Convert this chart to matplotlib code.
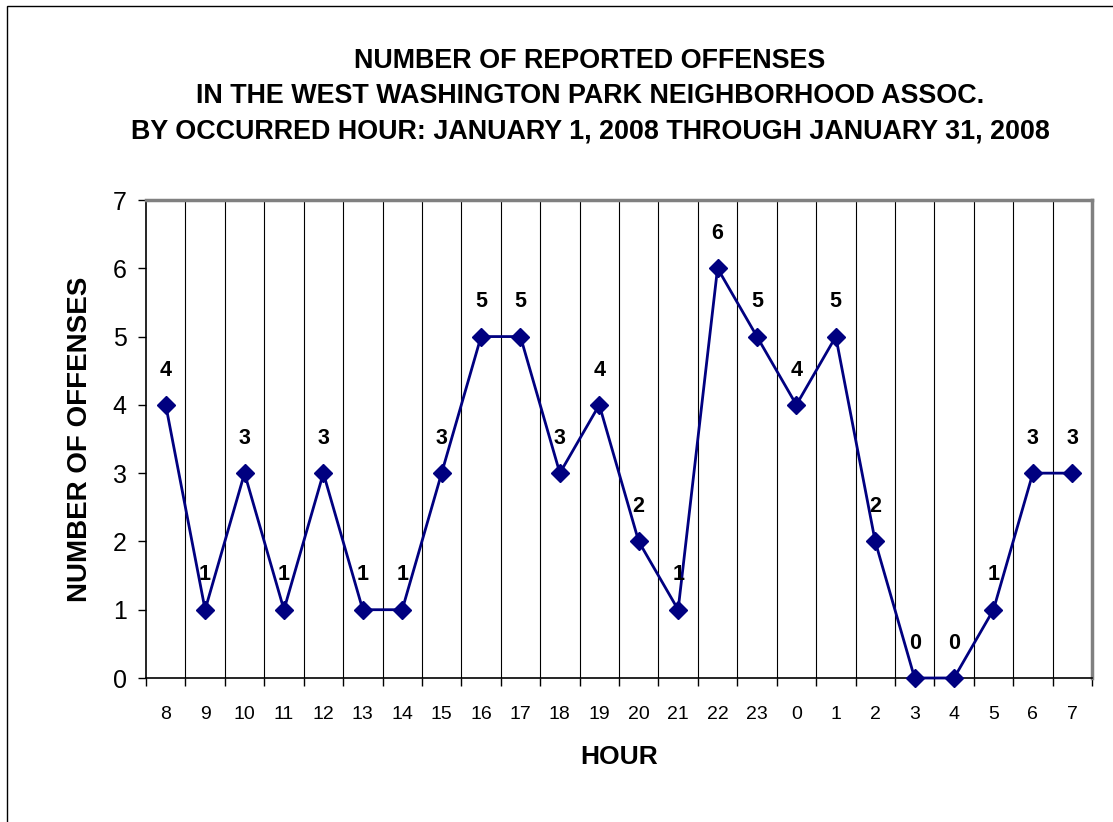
import numpy as np
import matplotlib.pyplot as plt
from matplotlib.patches import Rectangle

hours = ['8', '9', '10', '11', '12', '13', '14', '15', '16', '17', '18', '19',
         '20', '21', '22', '23', '0', '1', '2', '3', '4', '5', '6', '7']
offenses = [4, 1, 3, 1, 3, 1, 1, 3, 5, 5, 3, 4, 2, 1, 6, 5, 4, 5, 2, 0, 0, 1, 3, 3]

title = ('NUMBER OF REPORTED OFFENSES\n'
         'IN THE WEST WASHINGTON PARK NEIGHBORHOOD ASSOC.\n'
         'BY OCCURRED HOUR: JANUARY 1, 2008 THROUGH JANUARY 31, 2008')

plt.rcParams['font.family'] = ['Liberation Sans', 'DejaVu Sans']

fig = plt.figure(figsize=(11.13, 8.22), dpi=100)
W, H = 1113, 822
ax = fig.add_axes([146 / W, 1 - 678 / H, (1092 - 146) / W, (678 - 200) / H])

# outer frame of the chart
fig.patches.append(Rectangle((7 / W, -0.1), 1.2, 1 - 6 / H + 0.1,
                             transform=fig.transFigure, fill=False,
                             edgecolor='black', linewidth=1.0))

n = len(hours)
x = np.arange(n)
ax.plot(x, offenses, color='#000080', linewidth=2, marker='D',
        markersize=9, markeredgecolor='#000080', markerfacecolor='#000080',
        clip_on=False, zorder=3)

for xi, yi in zip(x, offenses):
    ax.annotate(str(yi), (xi, yi), xytext=(0, 25), textcoords='offset points',
                ha='center', va='center', fontsize=15.5, fontweight='bold')

ax.set_xlim(-0.5, n - 0.5)
ax.set_ylim(0, 7)
ax.set_xticks(x)
ax.set_xticklabels(hours, fontsize=14)
ax.set_xticks(np.arange(n + 1) - 0.5, minor=True)
ax.tick_params(axis='x', which='major', length=0, pad=20)
ax.tick_params(axis='x', which='minor', length=6, width=1, direction='out')
ax.set_yticks(range(8))
ax.tick_params(axis='y', labelsize=18, length=6, width=1, direction='out',
                pad=8)
for b in np.arange(1, n) - 0.5:
    ax.axvline(b, color='black', linewidth=0.8, zorder=1)

for s in ['top', 'right']:
    ax.spines[s].set_color('#808080')
    ax.spines[s].set_linewidth(2.5)
ax.spines['left'].set_linewidth(1.2)
ax.spines['bottom'].set_linewidth(1.2)

ax.set_xlabel('HOUR', fontsize=19, fontweight='bold', labelpad=16)
ax.set_ylabel('NUMBER OF OFFENSES', fontsize=20, fontweight='bold', labelpad=14)
fig.text(590 / W, 1 - 96 / H, title, ha='center', va='center', fontsize=19.4,
         fontweight='bold', linespacing=1.47)

fig.savefig('out.png', dpi=100)
